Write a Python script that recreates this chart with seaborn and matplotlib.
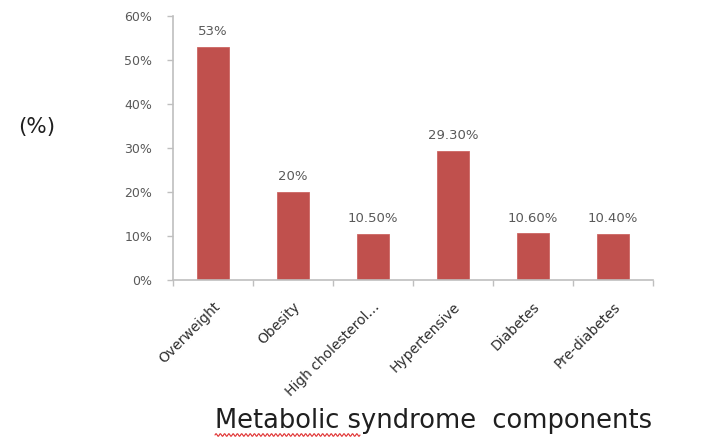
import numpy as np
import pandas as pd
import matplotlib
matplotlib.use("Agg")
import matplotlib.pyplot as plt
import seaborn as sns

categories = ["Overweight", "Obesity", "High cholesterol\u2026", "Hypertensive", "Diabetes", "Pre-diabetes"]
values = [53, 20, 10.5, 29.3, 10.6, 10.4]
value_labels = ["53%", "20%", "10.50%", "29.30%", "10.60%", "10.40%"]
y_ticks = [0, 10, 20, 30, 40, 50, 60]

sns.set_theme(style="white")
plt.rcParams["font.family"] = ["DejaVu Sans"]

df = pd.DataFrame({"component": categories, "pct": values})

W, H = 707, 441
fig = plt.figure(figsize=(W / 100, H / 100), dpi=100)
ax = fig.add_axes([173 / W, 1 - 280 / H, 480 / W, 264 / H])

sns.barplot(data=df, x="component", y="pct", color="#C0504D", saturation=1,
            width=0.39, edgecolor="#CD6663", linewidth=0.6, ax=ax)

grey = "#595959"
for i, (v, lab) in enumerate(zip(values, value_labels)):
    ax.text(i, v + 2.0, lab, ha="center", va="bottom", fontsize=9.5, color=grey)

ax.set_xlim(-0.5, len(categories) - 0.5)
ax.set_ylim(0, 60)
ax.set_yticks(y_ticks)
ax.set_yticklabels([f"{t}%" for t in y_ticks], fontsize=9, color=grey)
ax.set_xticks(range(len(categories)))
ax.set_xticklabels(categories, rotation=45, ha="right", rotation_mode="anchor",
                   fontsize=10, color="#2E2E2E")
ax.set_xticks(np.arange(-0.5, len(categories) + 0.5, 1), minor=True)
ax.tick_params(axis="x", which="major", length=0, pad=14)
ax.tick_params(axis="x", which="minor", length=4, color="#BFBFBF", width=1,
               direction="out", bottom=True)
ax.tick_params(axis="y", length=4, color="#BFBFBF", width=1, direction="out",
               left=True, pad=11)
for s in ("top", "right"):
    ax.spines[s].set_visible(False)
for s in ("left", "bottom"):
    ax.spines[s].set_color("#BFBFBF")
    ax.spines[s].set_linewidth(1.2)
ax.set_xlabel("")
ax.set_ylabel("")

fig.text(37 / W, 1 - 127 / H, "(%)", ha="center", va="center",
         fontsize=15.5, color="#1F1F1F")
fig.text(215 / W, 1 - 421 / H, "Metabolic syndrome  components", ha="left",
         va="center", fontsize=18.5, color="#1F1F1F")

# spell-check style squiggle under the first word
n = 300
xs = np.linspace(215 / W, 360 / W, n)
ys = 1 - 435 / H + (1.3 / H) * np.sin(np.linspace(0, 2 * np.pi * 34, n))
fig.add_artist(plt.Line2D(xs, ys, color="#E03030", linewidth=0.8,
                          transform=fig.transFigure))

fig.savefig("out.png", dpi=100, facecolor="white")
